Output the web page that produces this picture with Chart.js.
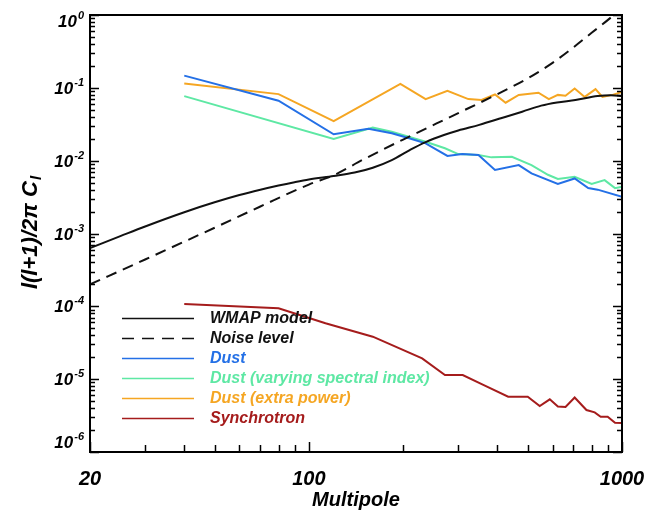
<!DOCTYPE html>
<html>
<head>
<meta charset="utf-8">
<script src="https://cdn.jsdelivr.net/npm/chart.js@4"></script>
<style>
  body { margin: 0; background: #fff; }
  #wrap { width: 645px; height: 510px; }
</style>
</head>
<body>
<div id="wrap"><canvas id="powerChart" width="645" height="510"></canvas></div>
<script>
// multipole l and l(l+1)/2pi C_l for each curve
const wmapL = [20, 25, 30, 40, 50, 60, 70, 80, 90, 100, 120, 140, 160, 184, 210, 236, 270, 300, 350, 413, 480, 552, 620, 710, 836, 920, 1000];
const wmapV = [6.3e-4, 9.2e-4, 1.25e-3, 1.96e-3, 2.68e-3, 3.37e-3, 3.99e-3, 4.56e-3, 5.07e-3, 5.52e-3, 6.16e-3, 6.86e-3, 8.0e-3, 0.0102, 0.0140, 0.0180, 0.0225, 0.026, 0.031, 0.0385, 0.047, 0.057, 0.063, 0.068, 0.077, 0.079, 0.077];

const noiseL = [20, 30, 50, 70, 100, 120, 150, 200, 300, 400, 500, 600, 700, 800, 900, 1000];
const noiseV = [2.0e-4, 4.4e-4, 1.2e-3, 2.35e-3, 4.7e-3, 6.3e-3, 0.0105, 0.0195, 0.045, 0.082, 0.135, 0.22, 0.36, 0.57, 0.85, 1.25];

const dustL = [40, 80, 120, 155, 184, 209, 236, 277, 309, 348, 393, 468, 514, 624, 706, 780, 836, 1000];
const dustV = [0.147, 0.0666, 0.023, 0.0275, 0.0238, 0.0203, 0.0173, 0.0116, 0.0123, 0.012, 0.00744, 0.0087, 0.0067, 0.0048, 0.0057, 0.0042, 0.0040, 0.0032];

const dustVarL = [40, 120, 160, 184, 236, 272, 300, 348, 383, 445, 514, 580, 624, 706, 800, 880, 950, 1000];
const dustVarV = [0.077, 0.0198, 0.0284, 0.025, 0.0182, 0.0148, 0.0123, 0.012, 0.0111, 0.0113, 0.0087, 0.0064, 0.0056, 0.006, 0.0048, 0.0054, 0.0042, 0.0044];

const dustExtraL = [40, 80, 120, 196, 236, 277, 323, 356, 393, 425, 468, 541, 584, 624, 660, 706, 760, 823, 866, 933, 1000];
const dustExtraV = [0.115, 0.082, 0.035, 0.113, 0.070, 0.091, 0.070, 0.068, 0.081, 0.0625, 0.080, 0.0857, 0.070, 0.080, 0.078, 0.098, 0.075, 0.096, 0.075, 0.080, 0.088];

const syncL = [40, 80, 113, 160, 230, 272, 310, 362, 433, 500, 546, 588, 624, 660, 706, 770, 818, 855, 900, 950, 1000];
const syncV = [1.08e-4, 9.4e-5, 5.85e-5, 3.83e-5, 1.93e-5, 1.14e-5, 1.14e-5, 8.3e-6, 5.74e-6, 5.74e-6, 4.28e-6, 5.28e-6, 4.2e-6, 4.15e-6, 5.6e-6, 3.77e-6, 3.5e-6, 3.05e-6, 3.05e-6, 2.52e-6, 2.5e-6];

const seriesLabels = ['WMAP model', 'Noise level', 'Dust', 'Dust (varying spectral index)', 'Dust (extra power)', 'Synchrotron'];

// axis ticks
const xTickValues = [20, 100, 1000];
const xTickLabels = ['20', '100', '1000'];
const xMinorTicks = [30, 40, 50, 60, 70, 80, 90, 200, 300, 400, 500, 600, 700, 800, 900];
const yTickExponents = [0, -1, -2, -3, -4, -5, -6];

const FONT = '"Liberation Sans", Arial, Helvetica, sans-serif';

function pts(ls, vs) {
  return ls.map((l, i) => ({ x: l, y: vs[i] }));
}

const data = {
  datasets: [
    { label: seriesLabels[0], data: pts(wmapL, wmapV), borderColor: '#111', borderWidth: 2, tension: 0.35, cubicInterpolationMode: 'monotone' },
    { label: seriesLabels[1], data: pts(noiseL, noiseV), borderColor: '#111', borderWidth: 2, borderDash: [11, 7], tension: 0.3, cubicInterpolationMode: 'monotone' },
    { label: seriesLabels[2], data: pts(dustL, dustV), borderColor: '#2470e6', borderWidth: 2, tension: 0 },
    { label: seriesLabels[3], data: pts(dustVarL, dustVarV), borderColor: '#5ee8a4', borderWidth: 2, tension: 0 },
    { label: seriesLabels[4], data: pts(dustExtraL, dustExtraV), borderColor: '#f5a623', borderWidth: 2, tension: 0 },
    { label: seriesLabels[5], data: pts(syncL, syncV), borderColor: '#a51c1c', borderWidth: 2, tension: 0 },
  ],
};

// box, inward ticks, labels, titles and legend
const frame = {
  id: 'frame',
  afterDatasetsDraw(chart) {
    const ctx = chart.ctx;
    const a = chart.chartArea;
    const x = chart.scales.x;
    const y = chart.scales.y;
    ctx.save();
    ctx.strokeStyle = '#000';
    ctx.fillStyle = '#000';

    // y ticks, left and right
    ctx.lineWidth = 1.5;
    for (let d = -6; d <= 0; d++) {
      for (let k = 1; k <= 9; k++) {
        const v = k * Math.pow(10, d);
        if (v > 1) break;
        const py = Math.round(y.getPixelForValue(v)) + 0.5;
        const len = k === 1 ? 9 : 5;
        ctx.beginPath();
        ctx.moveTo(a.left, py); ctx.lineTo(a.left + len, py);
        ctx.moveTo(a.right, py); ctx.lineTo(a.right - len, py);
        ctx.stroke();
      }
    }
    // x ticks, bottom
    xMinorTicks.concat(xTickValues).forEach(v => {
      const px = Math.round(x.getPixelForValue(v)) + 0.5;
      const len = xTickValues.includes(v) ? 10 : 7;
      ctx.beginPath();
      ctx.moveTo(px, a.bottom); ctx.lineTo(px, a.bottom - len);
      ctx.stroke();
    });

    // box
    ctx.lineWidth = 2;
    ctx.strokeRect(a.left, a.top, a.right - a.left, a.bottom - a.top);

    // y tick labels 10^n
    yTickExponents.forEach(e => {
      let cy = y.getPixelForValue(Math.pow(10, e));
      cy = Math.min(Math.max(cy, a.top + 6), a.bottom - 10);
      const exp = e === 0 ? '0' : '-' + (-e);
      ctx.font = 'italic bold 11px ' + FONT;
      const we = ctx.measureText(exp).width;
      ctx.font = 'italic bold 17px ' + FONT;
      const wb = ctx.measureText('10').width;
      const right = a.left - 7;
      ctx.textBaseline = 'alphabetic';
      ctx.textAlign = 'left';
      ctx.fillText('10', right - we - wb, cy + 6);
      ctx.font = 'italic bold 11px ' + FONT;
      ctx.fillText(exp, right - we + 1, cy - 2);
    });

    // x tick labels
    ctx.font = 'italic bold 20px ' + FONT;
    ctx.textAlign = 'center';
    ctx.textBaseline = 'alphabetic';
    xTickValues.forEach((v, i) => {
      ctx.fillText(xTickLabels[i], x.getPixelForValue(v), a.bottom + 33);
    });

    // axis titles
    ctx.fillText('Multipole', (a.left + a.right) / 2, a.bottom + 54);

    ctx.save();
    ctx.translate(29, 233);
    ctx.rotate(-Math.PI / 2);
    ctx.font = 'italic bold 22px ' + FONT;
    const main = 'l(l+1)/2\u03c0 C';
    const w1 = ctx.measureText(main).width;
    ctx.font = 'italic bold 15px ' + FONT;
    const w2 = ctx.measureText('l').width;
    const sx = -(w1 + w2) / 2;
    ctx.textAlign = 'left';
    ctx.font = 'italic bold 22px ' + FONT;
    ctx.fillText(main, sx, 8);
    ctx.font = 'italic bold 15px ' + FONT;
    ctx.fillText('l', sx + w1 + 1, 12);
    ctx.restore();

    // legend inside the plot
    ctx.font = 'italic bold 16px ' + FONT;
    ctx.textAlign = 'left';
    ctx.textBaseline = 'middle';
    chart.data.datasets.forEach((ds, i) => {
      const ly = 318.5 + i * 20;
      ctx.strokeStyle = ds.borderColor;
      ctx.lineWidth = 1.5;
      ctx.setLineDash(ds.borderDash ? [12, 8] : []);
      ctx.beginPath();
      ctx.moveTo(122, ly); ctx.lineTo(194, ly);
      ctx.stroke();
      ctx.setLineDash([]);
      ctx.fillStyle = ds.borderColor;
      ctx.fillText(ds.label, 210, ly);
    });

    ctx.restore();
  },
};

const options = {
  responsive: false,
  animation: false,
  layout: { padding: { left: 90, right: 23, top: 15, bottom: 58 } },
  elements: { point: { radius: 0 } },
  scales: {
    x: { type: 'logarithmic', min: 20, max: 1000, display: false },
    y: { type: 'logarithmic', min: 1e-6, max: 1, display: false },
  },
  plugins: {
    legend: { display: false },
    tooltip: { enabled: false },
  },
};

new Chart(document.getElementById('powerChart').getContext('2d'), {
  type: 'line',
  data: data,
  options: options,
  plugins: [frame],
});
</script>
</body>
</html>
